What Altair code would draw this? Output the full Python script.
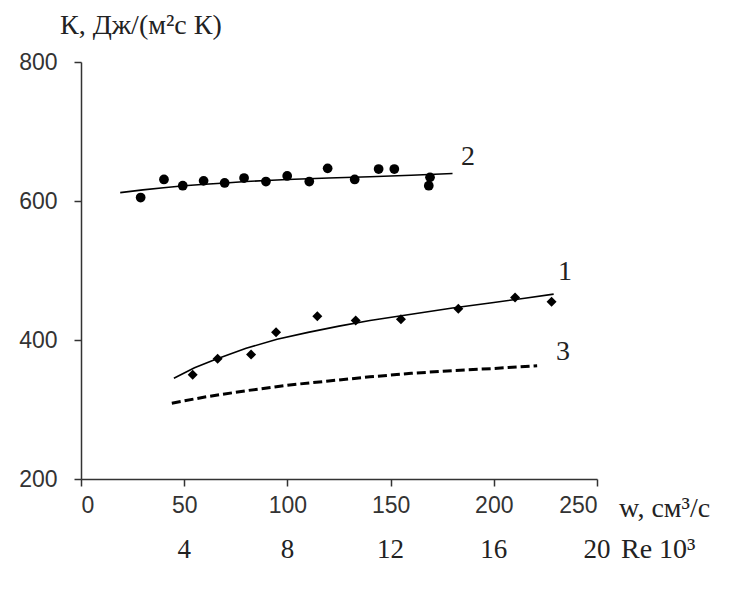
import altair as alt
import pandas as pd

# ---- data ----
# curve 2 (circles)
w2 = [28.9, 40.2, 49.3, 59.4, 69.6, 79.0, 89.6, 99.9, 110.6, 119.5, 132.6, 144.2, 151.8, 169.1, 168.5]
k2 = [605, 631, 622, 629, 626, 633, 628, 636, 628, 647, 631, 646, 646, 634, 622]
# curve 1 (diamonds)
w1 = [54.1, 66.2, 82.4, 94.5, 114.5, 133.1, 155.0, 182.8, 210.3, 228.0]
k1 = [350, 373, 379, 411, 434, 428, 430, 445, 461, 455]
# trend lines
fit2_w = [19, 30, 40, 50, 60, 70, 80, 90, 100, 120, 140, 160, 180]
fit2_k = [612, 616, 619, 622, 624, 626, 628, 629.5, 631, 633, 635, 637, 639.5]
fit1_w = [45, 55, 65, 80, 95, 110, 125, 140, 160, 180, 200, 215, 229]
fit1_k = [345, 360, 372, 388, 401, 411, 420, 428, 437, 446, 454, 460, 466]
fit3_w = [44, 60, 80, 100, 120, 140, 160, 180, 200, 221]
fit3_k = [309, 318, 327, 335, 341, 347, 352, 356, 359, 363]
# curve labels
curve_names = ["2", "1", "3"]
curve_lab_w = [187.5, 234.5, 233.5]
curve_lab_k = [663, 498, 383]
# axis ticks
x_ticks = [0, 50, 100, 150, 200, 250]
y_ticks = [200, 400, 600, 800]
# second scale (Re * 10^3) under the w axis
re_pos = [50, 100, 150, 200, 250]
re_labels = ["4", "8", "12", "16", "20"]
# axis captions
y_caption = "К, Дж/(м²с К)"
x_caption = "w, см³/с"
re_caption = "Re 10³"

W, H = 516, 417
INK = "#222222"
SERIF = "Liberation Serif"

pts2 = pd.DataFrame({"w": w2, "k": k2})
pts1 = pd.DataFrame({"w": w1, "k": k1})
line2 = pd.DataFrame({"w": fit2_w, "k": fit2_k})
line1 = pd.DataFrame({"w": fit1_w, "k": fit1_k})
line3 = pd.DataFrame({"w": fit3_w, "k": fit3_k})
labs = pd.DataFrame({"w": curve_lab_w, "k": curve_lab_k, "t": curve_names})
re_df = pd.DataFrame({"w": re_pos, "t": re_labels})
one = pd.DataFrame({"d": [0]})

xs = alt.Scale(domain=[0, 250], nice=False, zero=False)
ys = alt.Scale(domain=[200, 800], nice=False, zero=False)

axis_common = dict(
    grid=False, title=None, tickSize=7, tickWidth=1.5, domainWidth=1.5,
    domainColor="#333333", tickColor="#333333", labelColor="#333333",
    labelFont="Liberation Sans", labelFontSize=23,
)
xaxis = alt.Axis(values=x_ticks, labelPadding=8, **axis_common)
yaxis = alt.Axis(values=y_ticks, labelPadding=17, **axis_common)

X = alt.X("w:Q", scale=xs, axis=xaxis)
Y = alt.Y("k:Q", scale=ys, axis=yaxis)
Xn = alt.X("w:Q", scale=xs)
Yn = alt.Y("k:Q", scale=ys)

l2 = alt.Chart(line2).mark_line(color="black", strokeWidth=1.6).encode(x=X, y=Y)
l1 = alt.Chart(line1).mark_line(color="black", strokeWidth=1.6).encode(x=Xn, y=Yn)
l3 = alt.Chart(line3).mark_line(color="black", strokeWidth=3, strokeDash=[9, 4]).encode(x=Xn, y=Yn)
p2 = alt.Chart(pts2).mark_point(shape="circle", filled=True, color="black", opacity=1, size=95).encode(x=Xn, y=Yn)
p1 = alt.Chart(pts1).mark_point(shape="diamond", filled=True, color="black", opacity=1, size=100).encode(x=Xn, y=Yn)
tl = alt.Chart(labs).mark_text(font=SERIF, fontSize=28, color=INK,
                               align="center", baseline="middle").encode(x=Xn, y=Yn, text="t:N")
re_text = alt.Chart(re_df).mark_text(font=SERIF, fontSize=27, color=INK,
                                     align="center", baseline="alphabetic").encode(
    x=Xn, y=alt.value(496), text="t:N")

title_t = alt.Chart(one).mark_text(font=SERIF, fontSize=28, color=INK, align="left",
                                   baseline="alphabetic", text=y_caption).encode(
    x=alt.value(-21), y=alt.value(-28))
wlab_t = alt.Chart(one).mark_text(font=SERIF, fontSize=28, color=INK, align="left",
                                  baseline="alphabetic", text=x_caption).encode(
    x=alt.value(538), y=alt.value(455))
relab_t = alt.Chart(one).mark_text(font=SERIF, fontSize=28, color=INK, align="left",
                                   baseline="alphabetic", text=re_caption).encode(
    x=alt.value(540), y=alt.value(496))

chart = alt.layer(l2, l1, l3, p2, p1, tl, re_text, title_t, wlab_t, relab_t).properties(
    width=W, height=H,
    background="white",
    autosize=alt.AutoSizeParams(type="none"),
    padding={"left": 73, "top": 54, "right": 130, "bottom": 100},
).configure_view(stroke="transparent", strokeWidth=0)

chart.save("out.html", embed_options={"renderer": "svg", "actions": False})
